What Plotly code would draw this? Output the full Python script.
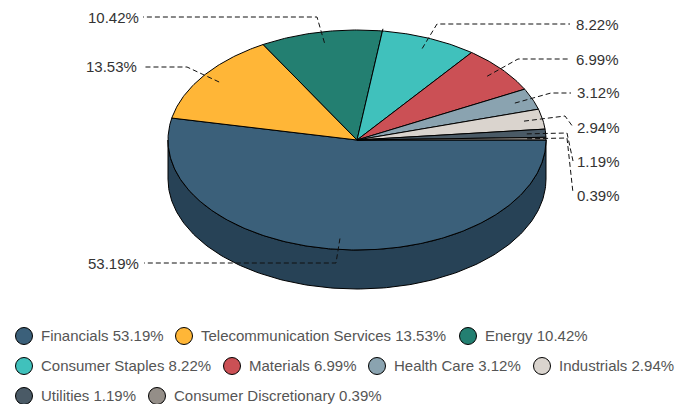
import numpy as np
import plotly.graph_objects as go

# ---- data ----
categories = ["Financials", "Telecommunication Services", "Energy", "Consumer Staples",
              "Materials", "Health Care", "Industrials", "Utilities", "Consumer Discretionary"]
values = [53.19, 13.53, 10.42, 8.22, 6.99, 3.12, 2.94, 1.19, 0.39]
colors = ["#3B607A", "#FFB637", "#237F71", "#40C1BC", "#CB5055", "#8AA3B0", "#DAD4CE", "#4A5A66", "#948E88"]
wall_color = "#274256"

# ---- layout constants ----
CX, CY, RX, RY, DEPTH = 357, 140, 189, 110, 39
elbows = [(336, 263), (187, 67), (317, 17), (437, 24), (518, 59), (551, 93), (565, 116), (567, 133), (567, 138)]
line_ends = [(144, 263), (143, 67), (143, 17), (570, 24), (570, 59), (571, 93), (573, 127), (573, 161), (573, 193)]
label_pos = [(139, 263.5), (137, 66.5), (139, 17.5), (576, 24), (576, 59), (577, 92), (577, 127), (577, 161), (577, 195)]
legend_pos = [(24, 336), (184, 336), (468, 336),
              (24, 366), (232, 366), (377, 366), (542, 366),
              (24, 396), (157, 396)]
FONT = "Liberation Sans, Arial, sans-serif"


def pt(t, r=1.0, dy=0.0):
    return CX + r * RX * np.cos(t), CY + r * RY * np.sin(t) + dy


fig = go.Figure()

# side wall of the visible lower half
ts = np.radians(np.arange(0, 180.5, 1))
xt, yt = pt(ts)
xb, yb = pt(ts[::-1], dy=DEPTH)
fig.add_trace(go.Scatter(x=np.r_[xt, xb, xt[0]], y=np.r_[yt, yb, yt[0]], mode="lines", fill="toself",
                         fillcolor=wall_color, line=dict(color="#000", width=1), hoverinfo="skip"))

# top face slices
fractions = np.array(values) / sum(values)
edges = np.r_[0, np.cumsum(fractions)] * 2 * np.pi
for i, name in enumerate(categories):
    a = np.linspace(edges[i], edges[i + 1], max(3, int((edges[i + 1] - edges[i]) * 90)))
    ax, ay = pt(a)
    fig.add_trace(go.Scatter(x=np.r_[CX, ax, CX], y=np.r_[CY, ay, CY], mode="lines", fill="toself",
                             fillcolor=colors[i], line=dict(color="#000", width=1),
                             name=name, hoverinfo="name"))

# small tick at the Energy / Consumer Staples boundary
tx, ty = pt(np.array([edges[3], edges[3]]), np.array([1.0, 1.02]))
fig.add_trace(go.Scatter(x=tx, y=ty, mode="lines", line=dict(color="#000", width=1), hoverinfo="skip"))

# leader lines and value labels
for i, v in enumerate(values):
    mx, my = pt((edges[i] + edges[i + 1]) / 2, 0.9)
    fig.add_trace(go.Scatter(x=[mx, elbows[i][0], line_ends[i][0]], y=[my, elbows[i][1], line_ends[i][1]],
                             mode="lines", line=dict(color="#111", width=1, dash="5px,3px"), hoverinfo="skip"))
    fig.add_annotation(x=label_pos[i][0], y=label_pos[i][1], text=f"{v:.2f}%", showarrow=False,
                       xanchor="right" if label_pos[i][0] < CX else "left", yanchor="middle",
                       borderpad=0, borderwidth=0,
                       font=dict(family=FONT, size=15, color="#333"))

# legend
for i, name in enumerate(categories):
    lx, ly = legend_pos[i]
    fig.add_trace(go.Scatter(x=[lx], y=[ly], mode="markers", hoverinfo="skip",
                             marker=dict(size=17, color=colors[i], line=dict(color="#000", width=1))))
    fig.add_annotation(x=lx + 16, y=ly - 1, text=f"{name} {values[i]:.2f}%", showarrow=False,
                       xanchor="left", yanchor="middle", borderpad=0,
                       font=dict(family=FONT, size=15, color="#555"))

fig.update_layout(width=675, height=404, margin=dict(l=0, r=0, t=0, b=0), showlegend=False,
                  paper_bgcolor="#fff", plot_bgcolor="#fff",
                  xaxis=dict(range=[0, 675], visible=False, fixedrange=True),
                  yaxis=dict(range=[404, 0], visible=False, fixedrange=True))
fig.write_html("out.html", config={"displayModeBar": False},
               post_script="document.body.style.margin='0';document.documentElement.style.overflow='hidden';")
